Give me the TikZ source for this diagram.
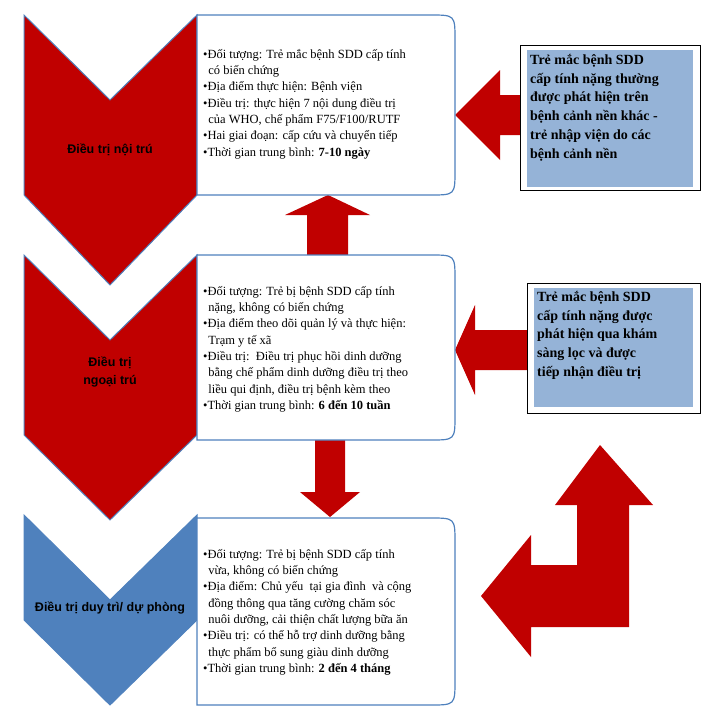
\documentclass[tikz,border=0pt]{standalone}
\usepackage{fontspec}
\setmainfont{Liberation Serif}
\newfontfamily\sansf{Liberation Sans}
\definecolor{dred}{RGB}{192,0,0}
\definecolor{sblue}{RGB}{79,129,189}
\definecolor{lblue}{RGB}{149,179,215}
\begin{document}
\begin{tikzpicture}[x=1pt,y=-1pt,
  chevr/.style={fill=dred,draw=sblue,line width=1pt},
  chevb/.style={fill=sblue,draw=sblue,line width=1pt},
  arr/.style={fill=dred,draw=none},
  box/.style={draw=sblue,line width=1.2pt,fill=white},
  btxt/.style={anchor=north west,align=left,font=\fontsize{12.5}{16.3}\selectfont,inner sep=0pt},
  lab/.style={font=\sansf\bfseries\fontsize{12.5}{18}\selectfont,align=center},
  side/.style={anchor=north west,align=left,font=\bfseries\fontsize{14}{18.8}\selectfont,inner sep=0pt}]
\useasboundingbox (0,0) rectangle (715,728);
% chevrons
\path[chevr] (24,15) -- (110,100) -- (197,15) -- (197,195) -- (110,285) -- (24,195) -- cycle;
\path[chevr] (24,255) -- (110,340) -- (197,255) -- (197,435) -- (110,520) -- (24,435) -- cycle;
\path[chevb] (24,515) -- (110,600) -- (197,515) -- (197,620) -- (110,705) -- (24,620) -- cycle;
\node[lab] (l1) at (110,150) {Điều trị nội trú};
\node[lab] (l2) at (110,372) {Điều trị\\ngoại trú};
\node[lab] (l3) at (110,608) {Điều trị duy trì/ dự phòng};
% arrows
\path[arr] (307,255) -- (307,215) -- (285,215) -- (328,195) -- (370,215) -- (348,215) -- (348,255) -- cycle;
\path[arr] (315,440) -- (315,492) -- (300,492) -- (330,517) -- (360,492) -- (345,492) -- (345,440) -- cycle;
\path[arr] (520,95) -- (500,95) -- (500,70) -- (455,115) -- (500,160) -- (500,135) -- (520,135) -- cycle;
\path[arr] (527,330) -- (475,330) -- (475,305) -- (455,350) -- (475,395) -- (475,370) -- (527,370) -- cycle;
\path[arr] (600,445) -- (653,505) -- (629,505) -- (629,627) -- (531,627) -- (531,657) -- (481,596) -- (531,535) -- (531,565) -- (577,565) -- (577,505) -- (555,505) -- cycle;
% boxes
\draw[box] (197,15) -- (430,15) .. controls (455,15) .. (455,40) -- (455,170) .. controls (455,195) .. (430,195) -- (197,195) -- cycle;
\draw[box] (197,255) -- (430,255) .. controls (455,255) .. (455,280) -- (455,415) .. controls (455,440) .. (430,440) -- (197,440) -- cycle;
\draw[box] (197,518) -- (430,518) .. controls (455,518) .. (455,543) -- (455,680) .. controls (455,705) .. (430,705) -- (197,705) -- cycle;
\node[btxt] (t1) at (203,49) {•Đối tượng: Trẻ mắc bệnh SDD cấp tính\\\ \,có biến chứng\\•Địa điểm thực hiện: Bệnh viện\\•Điều trị: thực hiện 7 nội dung điều trị\\\ \,của WHO, chế phẩm F75/F100/RUTF\\•Hai giai đoạn: cấp cứu và chuyển tiếp\\•Thời gian trung bình: \textbf{7-10 ngày}};
\node[btxt] (t2) at (203,286) {•Đối tượng: Trẻ bị bệnh SDD cấp tính\\\ \,nặng, không có biến chứng\\•Địa điểm theo dõi quản lý và thực hiện:\\\ \,Trạm y tế xã\\•Điều trị:\ \ Điều trị phục hồi dinh dưỡng\\\ \,bằng chế phẩm dinh dưỡng điều trị theo\\\ \,liều qui định, điều trị bệnh kèm theo\\•Thời gian trung bình: \textbf{6 đến 10 tuần}};
\node[btxt] (t3) at (203,549) {•Đối tượng: Trẻ bị bệnh SDD cấp tính\\\ \,vừa, không có biến chứng\\•Địa điểm: Chủ yếu\ \ tại gia đình\ \ và cộng\\\ \,đồng thông qua tăng cường chăm sóc\\\ \,nuôi dưỡng, cải thiện chất lượng bữa ăn\\•Điều trị: có thể hỗ trợ dinh dưỡng bằng\\\ \,thực phẩm bổ sung giàu dinh dưỡng\\•Thời gian trung bình: \textbf{2 đến 4 tháng}};
% side boxes
\draw[line width=1pt,fill=white] (520,45) rectangle (700,190);
\fill[lblue] (527,50) rectangle (693,187);
\node[side] (s1) at (530,54) {Trẻ mắc bệnh SDD\\cấp tính nặng thường\\được phát hiện trên\\bệnh cảnh nền khác -\\trẻ nhập viện do các\\bệnh cảnh nền};
\draw[line width=1pt,fill=white] (527,283) rectangle (700,413);
\fill[lblue] (534,288) rectangle (693,407);
\node[side] (s2) at (537,291) {Trẻ mắc bệnh SDD\\cấp tính nặng được\\phát hiện qua khám\\sàng lọc và được\\tiếp nhận điều trị};
\end{tikzpicture}
\end{document}
